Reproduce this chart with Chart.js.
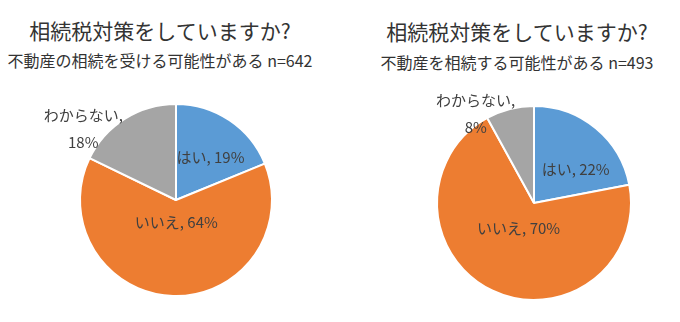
<!DOCTYPE html>
<html lang="ja">
<head>
<meta charset="utf-8">
<script src="https://cdn.jsdelivr.net/npm/chart.js@4.4.1/dist/chart.umd.min.js"></script>
<style>
  body { margin: 0; width: 680px; height: 322px; background: #fff; position: relative; overflow: hidden;
         font-family: "Noto Sans CJK JP", sans-serif; color: #333; }
  .title { position: absolute; width: 340px; text-align: center; font-size: 21px; line-height: 24px; white-space: nowrap; }
  .sub { position: absolute; width: 340px; text-align: center; font-size: 16px; line-height: 20px; white-space: nowrap; }
  canvas { position: absolute; top: 90px; }
</style>
</head>
<body>
<div class="title" style="left:-10px;top:18px">相続税対策をしていますか?</div>
<div class="sub" style="left:-10px;top:50px">不動産の相続を受ける可能性がある n=642</div>
<div class="title" style="left:347px;top:19px">相続税対策をしていますか?</div>
<div class="sub" style="left:347px;top:52px">不動産を相続する可能性がある n=493</div>
<canvas id="pieReceive" width="340" height="232" style="left:0"></canvas>
<canvas id="pieLeave" width="340" height="232" style="left:340px"></canvas>
<script>
var answers = ['はい', 'いいえ', 'わからない'];
var receiveShares = [19, 64, 18];   // n=642
var leaveShares = [22, 70, 8];      // n=493
var sliceColors = ['#5B9BD5', '#ED7D31', '#A5A5A5'];

// label text "はい, 19%" placed along each slice's middle angle
var sliceLabels = {
  id: 'sliceLabels',
  afterDatasetsDraw: function(chart, args, opts) {
    var ctx = chart.ctx;
    var values = chart.data.datasets[0].data;
    chart.getDatasetMeta(0).data.forEach(function(arc, i) {
      var p = arc.getProps(['x', 'y', 'startAngle', 'endAngle', 'outerRadius'], true);
      var mid = (p.startAngle + p.endAngle) / 2;
      var place = opts.place[i];
      var x = p.x + Math.cos(mid) * p.outerRadius * place.r + place.dx;
      var y = p.y + Math.sin(mid) * p.outerRadius * place.r + place.dy;
      var name = chart.data.labels[i] + ',';
      var pct = values[i] + '%';
      ctx.save();
      ctx.font = '15px "Noto Sans CJK JP"';
      ctx.fillStyle = '#404040';
      ctx.textAlign = 'center';
      ctx.textBaseline = 'middle';
      if (place.wrap) {
        ctx.fillText(name, x, y - 13.5);
        ctx.fillText(pct, x, y + 13.5);
      } else {
        ctx.fillText(name + ' ' + pct, x, y);
      }
      ctx.restore();
    });
  }
};

function makePie(id, values, radius, padding, place) {
  return new Chart(id, {
    type: 'pie',
    data: {
      labels: answers,
      datasets: [{
        data: values,
        backgroundColor: sliceColors,
        borderColor: '#fff',
        borderWidth: 2,
        radius: radius
      }]
    },
    options: {
      responsive: false,
      animation: false,
      layout: { padding: padding },
      plugins: {
        legend: { display: false },
        tooltip: { enabled: false },
        sliceLabels: { place: place }
      }
    },
    plugins: [sliceLabels]
  });
}

makePie('pieReceive', receiveShares, 96, { left: 12, right: 0, top: 0, bottom: 12 }, [
  { r: 0.57, dx: 4, dy: 3 },
  { r: 0.23, dx: 1, dy: 0 },
  { r: 1.25, dx: -29, dy: 30, wrap: true }
]);

makePie('pieLeave', leaveShares, 97, { left: 48, right: 0, top: 0, bottom: 6 }, [
  { r: 0.56, dx: 7, dy: 8 },
  { r: 0.3, dx: -3, dy: -1 },
  { r: 1.09, dx: -32, dy: 13, wrap: true }
]);
</script>
</body>
</html>
